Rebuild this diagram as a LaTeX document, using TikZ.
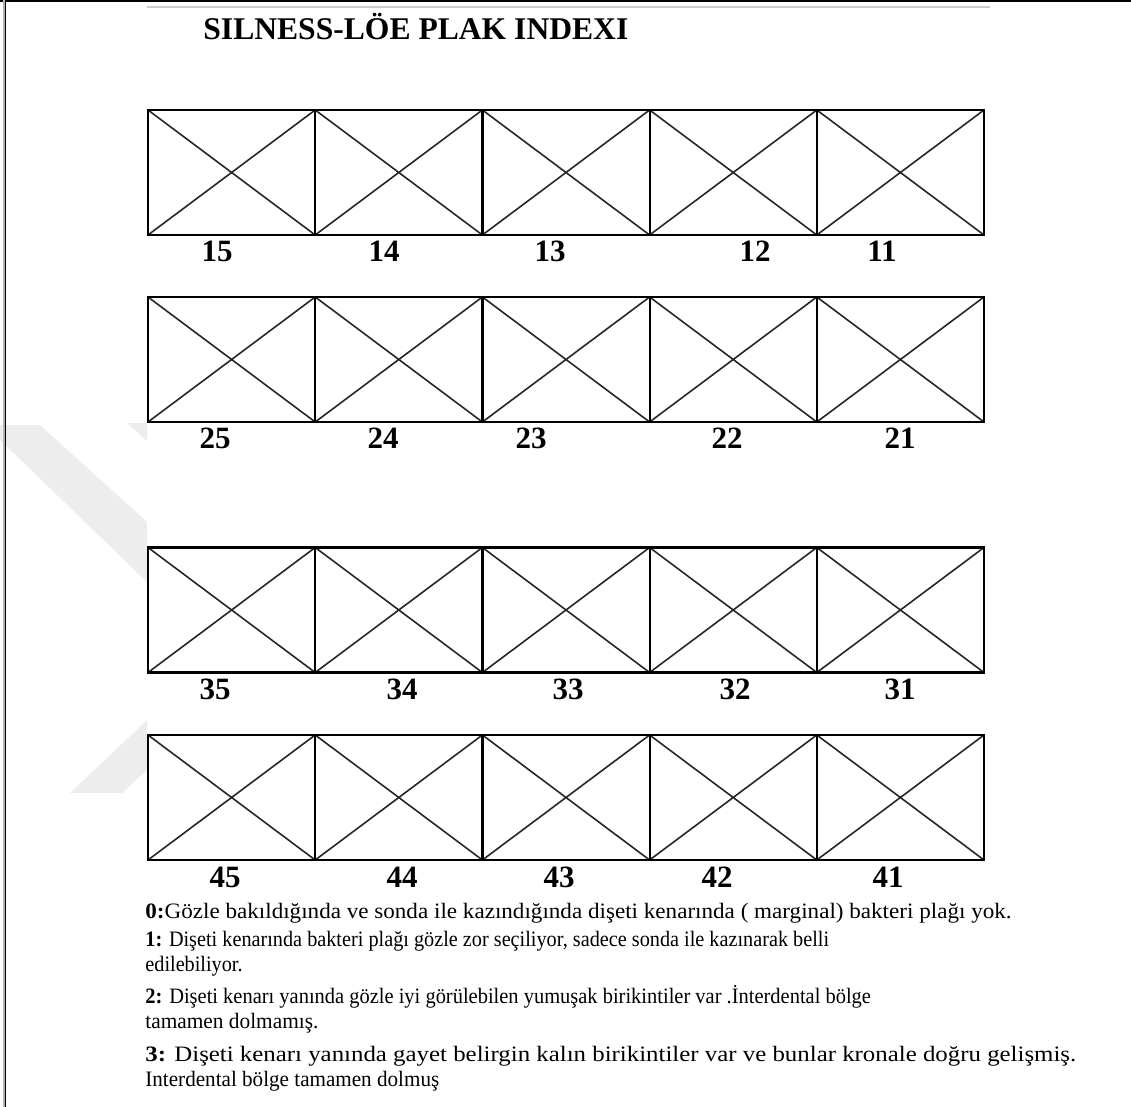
\documentclass[tikz,border=0pt]{standalone}
\usepackage{graphicx}
\usepackage{fontspec}
\setmainfont{Liberation Serif}
\usetikzlibrary{positioning}

\tikzset{
	toothbox/.style={shape=rectangle, draw, line width=1.1pt, inner sep=0pt, outer sep=0pt,
		minimum width=83.6pt, minimum height=62.5pt,
		path picture={\draw[line width=0.8pt, black!85]
			(path picture bounding box.north west) -- (path picture bounding box.south east)
			(path picture bounding box.south west) -- (path picture bounding box.north east);}},
	toothno/.style={font=\fontsize{15.5pt}{17pt}\selectfont\bfseries, inner sep=0pt},
	descline/.style={font=\fontsize{11pt}{12.5pt}\selectfont, anchor=base west, inner sep=0pt},
}

\begin{document}
\begin{tikzpicture}[x=0.5pt, y=-0.5pt]
	\useasboundingbox (0,0) rectangle (1131,1107);
	% Page frame and watermark:
	\fill[black!7] (0,425) -- (40,425) -- (147,522) -- (147,582) -- (0,440) -- cycle;
	\fill[black!7] (127,423) -- (147,423) -- (147,441) -- cycle;
	\fill[black!7] (147,720) -- (70,793) -- (122,793) -- (147,770) -- cycle;
	\draw[line width=1.5pt] (0,1) -- (1131,1);
	\draw[black!30, line width=0.6pt] (4,0) -- (4,1107);
	\draw[line width=0.8pt] (5.5,0) -- (5.5,1107);
	\draw[black!20, line width=1.3pt] (147,7) -- (990,7);
	% Title:
	\node[font=\fontsize{15.8pt}{17pt}\selectfont\bfseries, anchor=base west, inner sep=0pt] (title) at (203,40) {SILNESS-LÖE PLAK INDEXI};
	% Upper jaw, right side:
	\node[toothbox] (b15) at (231.6,172.5){};
	\node[toothbox] (b14) at (398.8,172.5){};
	\node[toothbox] (b13) at (566.0,172.5){};
	\node[toothbox] (b12) at (733.2,172.5){};
	\node[toothbox] (b11) at (900.4,172.5){};
	\node[toothno] (l15) at (217,251){15};
	\node[toothno] (l14) at (384,251){14};
	\node[toothno] (l13) at (550,251){13};
	\node[toothno] (l12) at (755,251){12};
	\node[toothno] (l11) at (882,251){11};
	% Upper jaw, left side:
	\node[toothbox] (b25) at (231.6,359.5){};
	\node[toothbox] (b24) at (398.8,359.5){};
	\node[toothbox] (b23) at (566.0,359.5){};
	\node[toothbox] (b22) at (733.2,359.5){};
	\node[toothbox] (b21) at (900.4,359.5){};
	\node[toothno] (l25) at (215,438){25};
	\node[toothno] (l24) at (383,438){24};
	\node[toothno] (l23) at (531,438){23};
	\node[toothno] (l22) at (727,438){22};
	\node[toothno] (l21) at (900,438){21};
	% Lower jaw, left side:
	\node[toothbox] (b35) at (231.6,610){};
	\node[toothbox] (b34) at (398.8,610){};
	\node[toothbox] (b33) at (566.0,610){};
	\node[toothbox] (b32) at (733.2,610){};
	\node[toothbox] (b31) at (900.4,610){};
	\node[toothno] (l35) at (215,689){35};
	\node[toothno] (l34) at (402,689){34};
	\node[toothno] (l33) at (568,689){33};
	\node[toothno] (l32) at (735,689){32};
	\node[toothno] (l31) at (900,689){31};
	% Lower jaw, right side:
	\node[toothbox] (b45) at (231.6,797.5){};
	\node[toothbox] (b44) at (398.8,797.5){};
	\node[toothbox] (b43) at (566.0,797.5){};
	\node[toothbox] (b42) at (733.2,797.5){};
	\node[toothbox] (b41) at (900.4,797.5){};
	\node[toothno] (l45) at (225,877){45};
	\node[toothno] (l44) at (402,877){44};
	\node[toothno] (l43) at (559,877){43};
	\node[toothno] (l42) at (717,877){42};
	\node[toothno] (l41) at (888,877){41};
	% Scores:
	\node[descline] (d0) at (145,918){\scalebox{1.05}[1]{\textbf{0:}Gözle bakıldığında ve sonda ile kazındığında dişeti kenarında ( marginal) bakteri plağı yok.}};
	\node[descline] (d1) at (145,946){\scalebox{0.92}[1]{\textbf{1:} Dişeti kenarında bakteri plağı gözle zor seçiliyor, sadece sonda ile kazınarak belli}};
	\node[descline] (d1b) at (145,971){\scalebox{0.92}[1]{edilebiliyor.}};
	\node[descline] (d2) at (145,1003){\scalebox{0.93}[1]{\textbf{2:} Dişeti kenarı yanında gözle iyi görülebilen yumuşak birikintiler var .İnterdental bölge}};
	\node[descline] (d2b) at (145,1028){\scalebox{0.97}[1]{tamamen dolmamış.}};
	\node[descline] (d3) at (145,1061){\scalebox{1.13}[1]{\textbf{3:} Dişeti kenarı yanında gayet belirgin kalın birikintiler var ve bunlar kronale doğru gelişmiş.}};
	\node[descline] (d3b) at (145,1086){\scalebox{0.96}[1]{Interdental bölge tamamen dolmuş}};
\end{tikzpicture}
\end{document}
